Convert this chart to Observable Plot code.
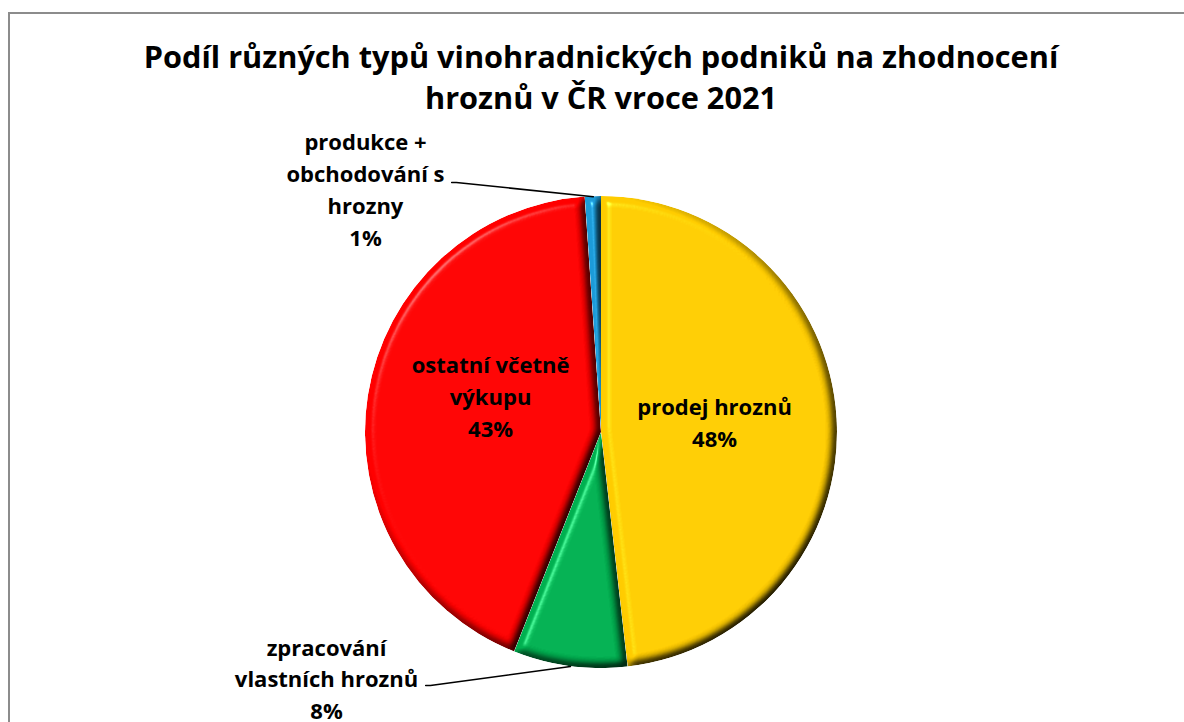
<!DOCTYPE html>
<html><head><meta charset="utf-8">
<script src="https://cdn.jsdelivr.net/npm/d3@7"></script>
<script src="https://cdn.jsdelivr.net/npm/@observablehq/plot@0.6"></script>
<style>
html,body{margin:0;padding:0;overflow:hidden;background:#fff;width:1184px;height:722px;}
body{font-family:"Open Sans",Carlito,Lato,sans-serif;position:relative;}
#frame{position:absolute;left:8px;top:12px;width:1400px;height:900px;border-left:2px solid #8c8c8c;border-top:2px solid #8c8c8c;box-sizing:border-box;}
#title{position:absolute;left:0;top:36px;width:1202px;text-align:center;font-weight:700;font-size:30.7px;line-height:41px;color:#000;}
#chart{position:absolute;left:0;top:125px;}
</style></head>
<body>
<div id="frame"></div>
<div id="title">Podíl různých typů vinohradnických podniků na zhodnocení<br>hroznů v ČR vroce 2021</div>
<div id="chart"></div>
<script>
// ---- data ----
const categories = ["prodej hroznů", "zpracování vlastních hroznů", "ostatní včetně výkupu", "produkce + obchodování s hrozny"];
const shares = [48.2, 7.8, 42.9, 1.1];
const percentLabels = ["48%", "8%", "43%", "1%"];
const labelLines = [["prodej hroznů"], ["zpracování", "vlastních hroznů"], ["ostatní včetně", "výkupu"], ["produkce +", "obchodování s", "hrozny"]];
const sliceColors = ["#FFCC00", "#00B050", "#FF0000", "#1C9BD8"];

// ---- layout (pixels) ----
const W = 1184, H = 597, CX = 601, CY = 307, R = 236;
const data = categories.map((c, i) => ({category: c, share: shares[i], label: labelLines[i].concat(percentLabels[i]).join("\n")}));
const arcs = d3.pie().sort(null).value(d => d.share)(data);

// label placement in pie units (radius = 1); outside labels have leader lines
const labelPos = [
  {x: 0.479, y: 0.049},
  {x: -1.165, y: -1.037, lead: [-0.745, -1.072]},
  {x: -0.470, y: 0.161},
  {x: -1.0, y: 1.036, lead: [-0.635, 1.059]}
];
const labels = data.map((d, i) => ({...d, x: labelPos[i].x, y: labelPos[i].y}));
const leaders = [];
arcs.forEach((a, i) => {
  const p = labelPos[i];
  if (!p.lead) return;
  const mid = (a.startAngle + a.endAngle) / 2;
  leaders.push({category: a.data.category, x: p.lead[0], y: p.lead[1]});
  leaders.push({category: a.data.category, x: p.lead[0] + 0.02, y: p.lead[1]});
  leaders.push({category: a.data.category, x: Math.sin(mid), y: Math.cos(mid)});
});

function pieSlices(index, scales, values, dimensions, context) {
  const cx = scales.x(0), cy = scales.y(0), r = scales.x(1) - scales.x(0);
  const g = d3.create("svg:g");
  const defs = g.append("defs");
  const f = defs.append("filter").attr("id", "bevel").attr("x", "-5%").attr("y", "-5%").attr("width", "110%").attr("height", "110%").attr("color-interpolation-filters", "sRGB");
  f.append("feGaussianBlur").attr("in", "SourceAlpha").attr("stdDeviation", 4).attr("result", "b");
  f.append("feDiffuseLighting").attr("in", "b").attr("surfaceScale", 6).attr("diffuseConstant", 1.2).attr("lighting-color", "#fff").attr("result", "d")
    .append("feDistantLight").attr("azimuth", 225).attr("elevation", 55);
  f.append("feComposite").attr("in", "SourceGraphic").attr("in2", "d").attr("operator", "arithmetic").attr("k1", 1).attr("k2", 0).attr("k3", 0).attr("k4", 0).attr("result", "shaded");
  f.append("feSpecularLighting").attr("in", "b").attr("surfaceScale", 6).attr("specularConstant", 0.8).attr("specularExponent", 60).attr("lighting-color", "#fff").attr("result", "s")
    .append("feDistantLight").attr("azimuth", 225).attr("elevation", 55);
  f.append("feComposite").attr("in", "s").attr("in2", "SourceAlpha").attr("operator", "in").attr("result", "s2");
  f.append("feComposite").attr("in", "shaded").attr("in2", "s2").attr("operator", "arithmetic").attr("k1", 0).attr("k2", 1).attr("k3", 0.5).attr("k4", 0).attr("result", "lit");
  f.append("feComposite").attr("in", "lit").attr("in2", "SourceAlpha").attr("operator", "in");
  const arc = d3.arc().innerRadius(0).outerRadius(r);
  g.append("g").attr("transform", `translate(${cx},${cy})`)
    .selectAll("path").data(arcs).join("path")
    .attr("d", arc)
    .attr("fill", d => scales.color(d.data.category))
    .attr("filter", "url(#bevel)");
  return g.node();
}

const chart = Plot.plot({
  width: W, height: H,
  marginTop: 0, marginRight: 0, marginBottom: 0, marginLeft: 0,
  x: {domain: [-CX / R, (W - CX) / R], axis: null},
  y: {domain: [-(H - CY) / R, CY / R], axis: null},
  color: {domain: categories, range: sliceColors},
  style: {fontFamily: "'Open Sans', Carlito, Lato, sans-serif", background: "transparent"},
  marks: [
    Plot.dot(data, {x: () => 0, y: () => 0, fill: "category", r: 1, fillOpacity: 0, stroke: null}),
    pieSlices,
    Plot.line(leaders, {x: "x", y: "y", z: "category", stroke: "#000", strokeWidth: 1.5}),
    Plot.text(labels, {x: "x", y: "y", text: "label", fontSize: 22, fontWeight: "bold", lineHeight: 1.45, fill: "#000", textAnchor: "middle"})
  ]
});
document.getElementById("chart").appendChild(chart);
</script>
</body></html>
